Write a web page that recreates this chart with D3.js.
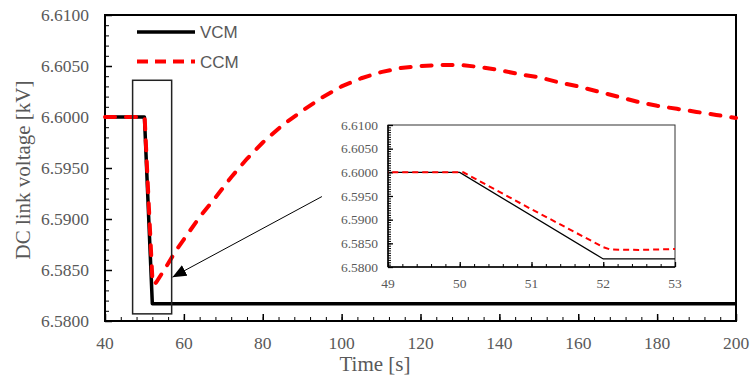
<!DOCTYPE html>
<html>
<head>
<meta charset="utf-8">
<script src="https://cdn.jsdelivr.net/npm/d3@7"></script>
<style>
  body { margin: 0; background: #fff; }
  svg { display: block; }
</style>
</head>
<body>
<div id="chart"></div>
<script>
// ---- data (time in s, voltage in kV) ----
const vcmTime = [40, 50, 52, 200];
const vcmVolt = [6.6000, 6.6000, 6.5817, 6.5817];

const ccmTime = [40, 50, 50.05, 51, 52, 52.1, 52.5, 53, 55, 58, 60, 64, 68, 72, 76, 80, 85, 90, 95, 100,
                 105, 110, 115, 120, 125, 130, 135, 140, 145, 150, 155, 160, 165, 170, 175, 180, 185, 190, 195, 200];
const ccmVolt = [6.6000, 6.6000, 6.6000, 6.5922, 6.5842, 6.5837, 6.5836, 6.5838, 6.5850, 6.5869, 6.5880, 6.5902,
                 6.5921, 6.5941, 6.5959, 6.5975, 6.5992, 6.6006, 6.6019, 6.6030, 6.6038, 6.6044, 6.6048, 6.6050,
                 6.6051, 6.6051, 6.6049, 6.6046, 6.6042, 6.6039, 6.6034, 6.6030, 6.6025, 6.6020, 6.6015, 6.6011,
                 6.6008, 6.6005, 6.6002, 6.5999];

const xTicks = [40, 60, 80, 100, 120, 140, 160, 180, 200];
const yTicks = [6.5800, 6.5850, 6.5900, 6.5950, 6.6000, 6.6050, 6.6100];
const insetXTicks = [49, 50, 51, 52, 53];
const insetYTicks = yTicks;

const seriesNames = ["VCM", "CCM"];

// highlighted region and arrow, in data units
const zoomBox = {t0: 47.0, t1: 56.9, v0: 6.5807, v1: 6.6036};
const arrowFrom = {t: 95.0, v: 6.5922};
const arrowTo = {t: 57.1, v: 6.5843};

const vcm = vcmTime.map((t, i) => ({t: t, v: vcmVolt[i]}));
const ccm = ccmTime.map((t, i) => ({t: t, v: ccmVolt[i]}));

const serif = "'Liberation Serif', 'Times New Roman', serif";
const gray = "#595959";

const W = 751, H = 376;
const margin = {top: 15, right: 15, bottom: 55, left: 105};
const width = W - margin.left - margin.right;
const height = H - margin.top - margin.bottom;

const svg = d3.select("#chart").append("svg")
    .attr("width", W)
    .attr("height", H);

const defs = svg.append("defs");
defs.append("marker")
    .attr("id", "arrowHead")
    .attr("viewBox", "0 0 14 12")
    .attr("refX", 14)
    .attr("refY", 6)
    .attr("markerWidth", 14)
    .attr("markerHeight", 12)
    .attr("markerUnits", "userSpaceOnUse")
    .attr("orient", "auto")
    .append("path")
    .attr("d", "M0,0 L14,6 L0,12 Z")
    .attr("fill", "black");

const g = svg.append("g")
    .attr("transform", `translate(${margin.left},${margin.top})`);

// scales
const x = d3.scaleLinear().domain([40, 200]).range([0, width]);
const y = d3.scaleLinear().domain([6.58, 6.61]).range([height, 0]);

// tick marks only (labels are drawn as plain text below)
function ticksOnly(parent, axis, ty, lw) {
    return parent.append("g")
        .attr("transform", `translate(0,${ty})`)
        .call(axis.tickFormat(""))
        .call(a => a.select(".domain").remove())
        .call(a => a.selectAll("line").attr("stroke", "black").attr("stroke-width", lw));
}

function xLabels(parent, scale, values, ty, size, fmt) {
    parent.append("g").selectAll("text")
        .data(values)
        .join("text")
        .attr("x", d => scale(d))
        .attr("y", ty)
        .attr("text-anchor", "middle")
        .text(fmt)
        .style("font-family", serif)
        .style("font-size", size + "px")
        .style("fill", gray);
}

function yLabels(parent, scale, values, tx, size, fmt) {
    parent.append("g").selectAll("text")
        .data(values)
        .join("text")
        .attr("x", tx)
        .attr("y", d => scale(d))
        .attr("dy", "0.34em")
        .attr("text-anchor", "end")
        .text(fmt)
        .style("font-family", serif)
        .style("font-size", size + "px")
        .style("fill", gray);
}

ticksOnly(g, d3.axisBottom(x).tickValues(d3.range(40, 201, 4)).tickSize(-4), height, 1);
ticksOnly(g, d3.axisLeft(y).tickValues(d3.range(0, 31).map(i => 6.58 + i * 0.001)).tickSize(-4), 0, 1);
ticksOnly(g, d3.axisBottom(x).tickValues(xTicks).tickSize(-7), height, 1.5);
ticksOnly(g, d3.axisLeft(y).tickValues(yTicks).tickSize(-7), 0, 1.5);

xLabels(g, x, xTicks, height + 28, 17.5, d3.format("d"));
yLabels(g, y, yTicks, -16, 17.5, d3.format(".4f"));

// frame
g.append("rect")
    .attr("width", width)
    .attr("height", height)
    .attr("fill", "none")
    .attr("stroke", "black")
    .attr("stroke-width", 2);

// series
const line = d3.line().x(d => x(d.t)).y(d => y(d.v));

g.append("path")
    .datum(vcm)
    .attr("d", line)
    .attr("fill", "none")
    .attr("stroke", "black")
    .attr("stroke-width", 3.5)
    .attr("stroke-linejoin", "round");

g.append("path")
    .datum(ccm)
    .attr("d", line)
    .attr("fill", "none")
    .attr("stroke", "#ff0000")
    .attr("stroke-width", 4)
    .attr("stroke-linecap", "round")
    .attr("stroke-dasharray", "10,11");

// highlight rectangle
g.append("rect")
    .attr("x", x(zoomBox.t0))
    .attr("y", y(zoomBox.v1))
    .attr("width", x(zoomBox.t1) - x(zoomBox.t0))
    .attr("height", y(zoomBox.v0) - y(zoomBox.v1))
    .attr("fill", "none")
    .attr("stroke", "#222")
    .attr("stroke-width", 1.5);

// arrow
g.append("line")
    .attr("x1", x(arrowFrom.t))
    .attr("y1", y(arrowFrom.v))
    .attr("x2", x(arrowTo.t))
    .attr("y2", y(arrowTo.v))
    .attr("stroke", "black")
    .attr("stroke-width", 1)
    .attr("marker-end", "url(#arrowHead)");

// legend
const legend = g.append("g").attr("transform", "translate(32,17)");
seriesNames.forEach((name, i) => {
    const row = legend.append("g").attr("transform", `translate(0,${i * 29.5})`);
    row.append("line")
        .attr("x1", 0).attr("x2", 58)
        .attr("stroke", i === 0 ? "black" : "#ff0000")
        .attr("stroke-width", i === 0 ? 3.5 : 4)
        .attr("stroke-dasharray", i === 0 ? null : "11,7");
    row.append("text")
        .attr("x", 63)
        .attr("y", 6)
        .text(name)
        .style("font-family", "'Liberation Sans', Arial, sans-serif")
        .style("font-size", "17px")
        .style("fill", gray);
});

// axis titles
svg.append("text")
    .attr("transform", "translate(30,170) rotate(-90)")
    .attr("text-anchor", "middle")
    .text("DC link voltage [kV]")
    .style("font-family", serif)
    .style("font-size", "21px")
    .style("fill", gray);

svg.append("text")
    .attr("x", 375)
    .attr("y", 371)
    .attr("text-anchor", "middle")
    .text("Time [s]")
    .style("font-family", serif)
    .style("font-size", "21px")
    .style("fill", gray);

// ---- inset ----
const inset = {left: 388, top: 125, width: 287, height: 142};
const ig = svg.append("g").attr("transform", `translate(${inset.left},${inset.top})`);

const ix = d3.scaleLinear().domain([49, 53]).range([0, inset.width]);
const iy = d3.scaleLinear().domain([6.58, 6.61]).range([inset.height, 0]);

ig.append("rect")
    .attr("width", inset.width)
    .attr("height", inset.height)
    .attr("fill", "white")
    .attr("stroke", "#333")
    .attr("stroke-width", 1);

defs.append("clipPath").attr("id", "insetClip")
    .append("rect")
    .attr("width", inset.width)
    .attr("height", inset.height);

ticksOnly(ig, d3.axisBottom(ix).tickValues(d3.range(0, 21).map(i => 49 + i * 0.2)).tickSize(-3), inset.height, 1);
ticksOnly(ig, d3.axisLeft(iy).tickValues(d3.range(0, 61).map(i => 6.58 + i * 0.0005)).tickSize(-3), 0, 1);
ticksOnly(ig, d3.axisBottom(ix).tickValues(insetXTicks).tickSize(-5), inset.height, 1.3);
ticksOnly(ig, d3.axisLeft(iy).tickValues(insetYTicks).tickSize(-5), 0, 1.3);

xLabels(ig, ix, insetXTicks, inset.height + 20.5, 13.5, d3.format("d"));
yLabels(ig, iy, insetYTicks, -10, 13.5, d3.format(".4f"));

// inset axis lines
ig.append("line").attr("x1", 0).attr("x2", 0).attr("y1", 0).attr("y2", inset.height)
    .attr("stroke", "black").attr("stroke-width", 1.5);
ig.append("line").attr("x1", 0).attr("x2", inset.width).attr("y1", inset.height).attr("y2", inset.height)
    .attr("stroke", "black").attr("stroke-width", 1.5);

const iline = d3.line().x(d => ix(d.t)).y(d => iy(d.v));
const iLines = ig.append("g").attr("clip-path", "url(#insetClip)");

iLines.append("path")
    .datum(vcm)
    .attr("d", iline)
    .attr("fill", "none")
    .attr("stroke", "black")
    .attr("stroke-width", 1.3);

iLines.append("path")
    .datum(ccm)
    .attr("d", iline)
    .attr("fill", "none")
    .attr("stroke", "#ff0000")
    .attr("stroke-width", 2)
    .attr("stroke-dasharray", "6,4");
</script>
</body>
</html>
